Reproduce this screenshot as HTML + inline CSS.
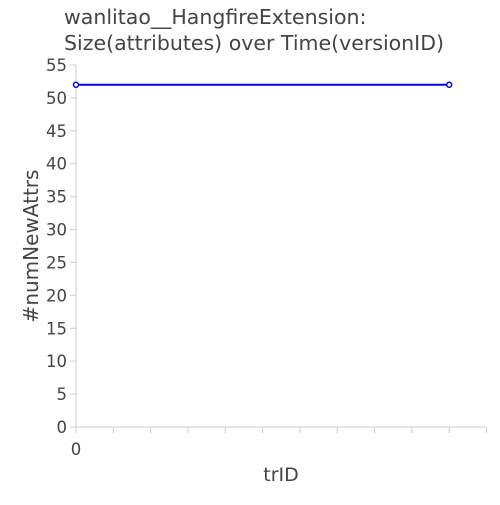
<!DOCTYPE html>
<html><head><meta charset="utf-8"><style>
body{margin:0;background:#fff;}
svg text{font-family:"DejaVu Sans",sans-serif;fill:#444;}
</style></head><body>
<svg id="chart" width="500" height="500">
<text x="64" y="24" font-size="20.5">wanlitao__HangfireExtension:</text>
<text x="64" y="50" font-size="20.5">Size(attributes) over Time(versionID)</text>
<text transform="translate(38,246) rotate(-90)" text-anchor="middle" font-size="20">#numNewAttrs</text>
<text x="281" y="481" text-anchor="middle" font-size="19">trID</text>
<g id="axes"></g>
<g id="marks"></g>
</svg>
<script>
const xValues=[0,10];
const yValues=[52,52];
const yTicks=[0,5,10,15,20,25,30,35,40,45,50,55];
const xTicks=[0,1,2,3,4,5,6,7,8,9,10,11];
const xTickLabels=["0","","","","","","","","","","",""];
const L=76,R=486.5,T=65,B=427;
const xs=v=>L+(v-0)/(11-0)*(R-L);
const ys=v=>B-(v-0)/(55-0)*(B-T);
const NS="http://www.w3.org/2000/svg";
const axes=document.getElementById('axes'),marks=document.getElementById('marks');
function mk(tag,attrs,parent){const e=document.createElementNS(NS,tag);for(const k in attrs)e.setAttribute(k,attrs[k]);parent.appendChild(e);return e;}
let a=mk('line',{x1:L,y1:T,x2:L,y2:B,stroke:'#ccc'},axes);


a=mk('line',{x1:L,y1:B,x2:R,y2:B,stroke:'#ccc'},axes);


yTicks.forEach(v=>{
 const t=mk('line',{x1:L-6,y1:ys(v),x2:L,y2:ys(v),stroke:'#ccc'},axes);
 
 
 const tx=mk('text',{x:L-9,y:ys(v)+6,'text-anchor':'end','font-size':'16.5'},axes);
 tx.textContent=v;
 
 
});
xTicks.forEach((v,i)=>{
 const t=mk('line',{x1:xs(v),y1:B,x2:xs(v),y2:B+6,stroke:'#ccc'},axes);
 
 
 if(xTickLabels[i]){const tx=mk('text',{x:xs(v),y:B+28,'text-anchor':'middle','font-size':'16.5'},axes);
 tx.textContent=xTickLabels[i];
 
 }
});
const pl=mk('polyline',{points:xValues.map((x,i)=>xs(x)+','+ys(yValues[i])).join(' '),fill:'none',stroke:'#0000ee','stroke-width':2},marks);


xValues.forEach((x,i)=>{
 const c=mk('circle',{cx:xs(x),cy:ys(yValues[i]),r:2.5,fill:'#fff',stroke:'#0000ee','stroke-width':1.5},marks);
 
 
});
</script>
</body></html>
